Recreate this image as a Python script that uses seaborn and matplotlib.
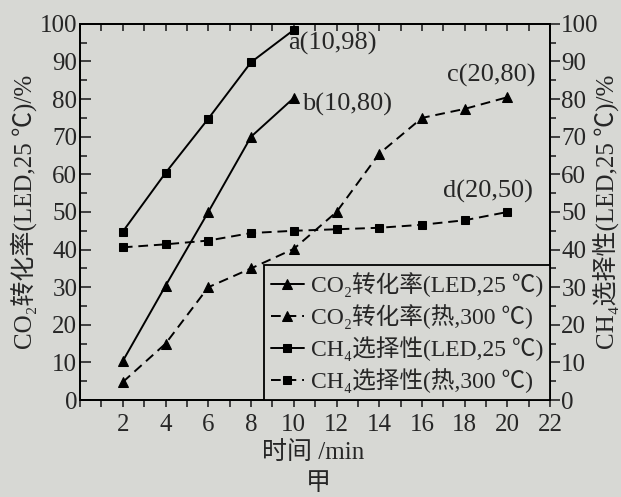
import pandas as pd
import matplotlib
matplotlib.use('Agg')
import matplotlib.pyplot as plt
from matplotlib.ticker import MultipleLocator
import seaborn as sns

# values
time_led = [2, 4, 6, 8, 10]
time_heat = [2, 4, 6, 8, 10, 12, 14, 16, 18, 20]
co2_led = [10.4, 30.4, 50, 70, 80.3]
co2_heat = [4.8, 15, 30, 35, 40.2, 50, 65.5, 75, 77.4, 80.5]
ch4_led = [44.8, 60.4, 74.8, 89.8, 98.4]
ch4_heat = [40.6, 41.4, 42.4, 44.4, 45, 45.4, 45.8, 46.6, 47.8, 50]

series_labels = ['CO₂转化率(LED,25 ℃)', 'CO₂转化率(热,300 ℃)',
                 'CH₄选择性(LED,25 ℃)', 'CH₄选择性(热,300 ℃)']
point_labels = ['a(10,98)', 'b(10,80)', 'c(20,80)', 'd(20,50)']
x_ticks = [2, 4, 6, 8, 10, 12, 14, 16, 18, 20, 22]
y_ticks = [0, 10, 20, 30, 40, 50, 60, 70, 80, 90, 100]

BG = '#d7d8d4'
FONTS = ['Liberation Serif', 'Noto Sans CJK SC', 'DejaVu Sans']
FS = 18

sns.set_style('ticks')
plt.rcParams['font.family'] = FONTS
plt.rcParams['axes.linewidth'] = 1.3
plt.rcParams['axes.unicode_minus'] = False

fig = plt.figure(figsize=(6.21, 4.97), dpi=100, facecolor=BG)
ax = fig.add_axes([0.129, 0.195, 0.757, 0.757], facecolor=BG)
ax2 = ax.twinx()

line_kw = dict(color='black', linewidth=1.4, markeredgecolor='black', markerfacecolor='black')
sns.lineplot(x=time_led, y=co2_led, ax=ax, marker='^', markersize=7,
             linestyle='-', label=series_labels[0], **line_kw)
sns.lineplot(x=time_heat, y=co2_heat, ax=ax, marker='^', markersize=7,
             linestyle=(0, (5, 3)), label=series_labels[1], **line_kw)
sns.lineplot(x=time_led, y=ch4_led, ax=ax2, marker='s', markersize=6,
             linestyle='-', label=series_labels[2], **line_kw)
sns.lineplot(x=time_heat, y=ch4_heat, ax=ax2, marker='s', markersize=6,
             linestyle=(0, (5, 3)), label=series_labels[3], **line_kw)

ax.set_xlim(0, 22)
ax.set_ylim(0, 100)
ax2.set_ylim(0, 100)

ax.set_xticks(x_ticks)
ax.xaxis.set_minor_locator(MultipleLocator(1))
ax.set_yticks(y_ticks)
ax2.set_yticks(y_ticks)
ax.yaxis.set_minor_locator(MultipleLocator(5))
ax2.yaxis.set_minor_locator(MultipleLocator(5))

ax.tick_params(axis='x', which='major', direction='out', length=5, width=1.2, labelsize=FS, pad=5)
ax.tick_params(axis='x', which='minor', direction='out', length=5, width=1.2)
ax.tick_params(axis='y', which='major', direction='in', length=8, width=1.2, labelsize=FS, pad=2)
ax.tick_params(axis='y', which='minor', direction='in', length=5, width=1.2)
ax2.tick_params(axis='y', which='major', direction='out', length=7, width=1.2, labelsize=FS, pad=1)
ax2.tick_params(axis='y', which='minor', direction='out', length=4, width=1.2)

# top spine ticks point inward
top = ax.secondary_xaxis('top')
top.xaxis.set_major_locator(MultipleLocator(1))
top.tick_params(direction='in', length=5, width=1.2, labeltop=False)

for spine in list(ax.spines.values()) + list(ax2.spines.values()):
    spine.set_color('black')

ax.set_xlabel('时间 /min', fontsize=FS)
ax.xaxis.set_label_coords(0.496, -0.14)
ax.xaxis.label.set_va('center')
ax.set_ylabel('CO₂转化率(LED,25 ℃)/%', fontsize=FS)
ax.yaxis.set_label_coords(-0.12, 0.5)
ax.yaxis.label.set_va('center')
ax2.set_ylabel('CH₄选择性(LED,25 ℃)/%', fontsize=FS, rotation=90)
ax2.yaxis.set_label_coords(1.118, 0.5)
ax2.yaxis.label.set_va('center')

fig.text(318 / 621, 1 - 484 / 497, '甲', fontsize=FS, ha='center', va='center')

# point labels
ax.annotate(point_labels[0], (time_led[-1], ch4_led[-1]), textcoords='offset points',
            xytext=(-4, -10), fontsize=19, ha='left', va='center')
ax.annotate(point_labels[1], (time_led[-1], co2_led[-1]), textcoords='offset points',
            xytext=(6, -5), fontsize=19, ha='left', va='center')
ax.annotate(point_labels[2], (time_heat[-1], co2_heat[-1]), textcoords='offset points',
            xytext=(-12, 16), fontsize=19, ha='center', va='center')
ax.annotate(point_labels[3], (time_heat[-1], ch4_heat[-1]), textcoords='offset points',
            xytext=(-14, 15), fontsize=19, ha='center', va='center')

# legend with all four series, lower right corner
h1, l1 = ax.get_legend_handles_labels()
h2, l2 = ax2.get_legend_handles_labels()
ax.get_legend().remove()
ax2.get_legend().remove()
leg = ax2.legend(h1 + h2, l1 + l2, loc='lower right', bbox_to_anchor=(1, 0),
                 borderaxespad=0, fontsize=17, frameon=True, fancybox=False,
                 edgecolor='black', facecolor=BG, framealpha=1,
                 handlelength=1.4, handletextpad=0.3, labelspacing=0.3,
                 borderpad=0.3)
leg.get_frame().set_linewidth(1.3)

fig.savefig('out.png', dpi=100, facecolor=BG)
